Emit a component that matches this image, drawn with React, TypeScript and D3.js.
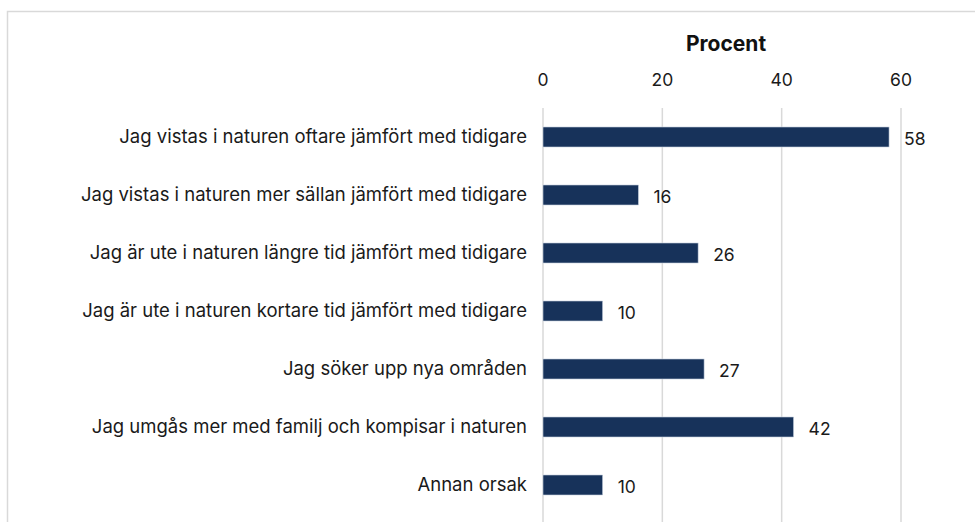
import React, { useRef, useEffect } from 'react';
import * as d3 from 'd3';

// svar från enkäten, procent
const categories = [
  'Jag vistas i naturen oftare jämfört med tidigare',
  'Jag vistas i naturen mer sällan jämfört med tidigare',
  'Jag är ute i naturen längre tid jämfört med tidigare',
  'Jag är ute i naturen kortare tid jämfört med tidigare',
  'Jag söker upp nya områden',
  'Jag umgås mer med familj och kompisar i naturen',
  'Annan orsak',
];
const values = [58, 16, 26, 10, 27, 42, 10];
const ticks = [0, 20, 40, 60];
const axisTitle = 'Procent';

const W = 975;
const H = 522;
const FONT = 'Inter, "Noto Sans", sans-serif';

const App = () => {
  const chartRef = useRef<SVGSVGElement>(null);

  useEffect(() => {
    const svg = d3.select(chartRef.current);
    svg.selectAll('*').remove();

    const x = d3.scaleLinear().domain([0, 60]).range([543, 901]);
    const y = d3.scaleBand<string>()
      .domain(categories)
      .range([108, 514])
      .paddingInner(0.655)
      .paddingOuter(0.3275);

    // ram runt diagrammet
    svg.append('rect')
      .attr('x', 7.5)
      .attr('y', 11.5)
      .attr('width', W + 20)
      .attr('height', H + 20)
      .attr('fill', 'white')
      .attr('stroke', '#d9d9d9')
      .attr('stroke-width', 1.5);

    // stödlinjer
    svg.append('g')
      .selectAll('line')
      .data(ticks)
      .join('line')
      .attr('x1', d => x(d))
      .attr('x2', d => x(d))
      .attr('y1', 108)
      .attr('y2', H)
      .attr('stroke', '#d9d9d9')
      .attr('stroke-width', 1.5);

    // tick-etiketter överst
    svg.append('g')
      .selectAll('text')
      .data(ticks)
      .join('text')
      .attr('x', d => x(d))
      .attr('y', 80)
      .attr('dy', '0.35em')
      .attr('text-anchor', 'middle')
      .attr('font-family', FONT)
      .attr('font-size', 17.5)
      .attr('fill', '#1a1a1a')
      .text(d => d);

    svg.append('text')
      .attr('x', 726)
      .attr('y', 44)
      .attr('dy', '0.35em')
      .attr('text-anchor', 'middle')
      .attr('font-family', FONT)
      .attr('font-size', 21)
      .attr('font-weight', 'bold')
      .attr('fill', '#111')
      .text(axisTitle);

    const rows = svg.append('g')
      .selectAll('g')
      .data(categories)
      .join('g');

    rows.append('rect')
      .attr('x', x(0))
      .attr('y', d => y(d)!)
      .attr('width', (d, i) => x(values[i]) - x(0))
      .attr('height', y.bandwidth())
      .attr('fill', '#17325a')
      .attr('stroke', '#c9d3e0')
      .attr('stroke-width', 0.6);

    rows.append('text')
      .attr('x', 527)
      .attr('y', d => y(d)! + y.bandwidth() / 2)
      .attr('dy', '0.35em')
      .attr('text-anchor', 'end')
      .attr('font-family', FONT)
      .attr('font-size', 18.5)
      .attr('fill', '#1a1a1a')
      .text(d => d);

    rows.append('text')
      .attr('x', (d, i) => x(values[i]) + 15)
      .attr('y', d => y(d)! + y.bandwidth() / 2 + 2)
      .attr('dy', '0.35em')
      .attr('font-family', FONT)
      .attr('font-size', 17.5)
      .attr('fill', '#1a1a1a')
      .text((d, i) => values[i]);
  }, []);

  return (
    <svg
      ref={chartRef}
      width={W}
      height={H}
      style={{ position: 'absolute', left: 0, top: 0, background: 'white' }}
    ></svg>
  );
};

export default App;
